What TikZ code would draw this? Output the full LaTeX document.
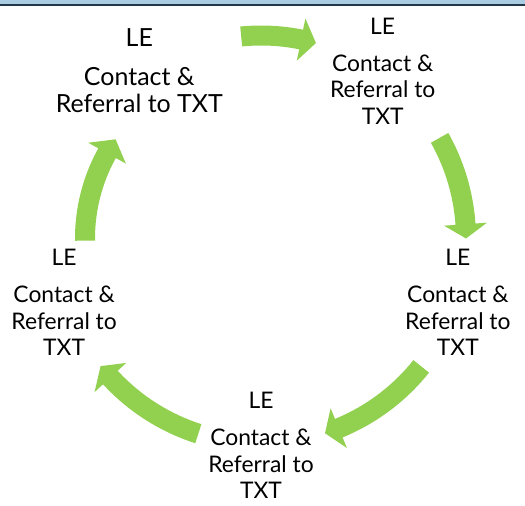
\documentclass[tikz,border=0pt]{standalone}
\usepackage{fontspec}
\setmainfont{Lato}
\usepackage{xcolor}
\usepackage{tikz}
\usetikzlibrary{calc}

\definecolor{arrowgreen}{RGB}{146,208,80}
\definecolor{barblue}{RGB}{170,205,226}
\definecolor{bardark}{RGB}{35,55,75}

% tail angle, head base angle, tip angle, radius
\newcommand{\cyclearrow}[4]{%
  \fill[arrow fill] (#1:{#4+10}) arc[start angle=#1, end angle=#2, radius={#4+10}]
    -- (#2:{#4+21.5}) -- (#3:#4) -- (#2:{#4-21.5}) -- (#2:{#4-10})
    arc[start angle=#2, end angle=#1, radius={#4-10}] -- cycle;}

\begin{document}
\begin{tikzpicture}[scale=0.02,
                    arrow fill/.style={fill=arrowgreen},
                    main node/.style={inner sep=0pt,align=center,font=\fontsize{13}{15.1}\selectfont}]
 \useasboundingbox (-261,-266.5) rectangle (264,238.5);

%Window bar at the top
 \fill[barblue] (-261,238.5) rectangle (264,234.5);
 \fill[bardark] (-261,234.5) rectangle (264,232);

%Text of the cycle
 \node[main node,font=\fontsize{14.2}{15.5}\selectfont] (Contact1) at (126:207) {LE\\[6.5pt]Contact \&\\Referral to TXT};
 \foreach \a/\n in {54/2,342/3,270/4,198/5}
   \node[main node] (Contact\n) at (\a:207) {LE\\[6pt]Contact \&\\Referral to\\TXT};

%Arrows between them
 \cyclearrow{95.6}{78.6}{74.3}{203}
 \cyclearrow{29.4}{4}{0}{205}
 \cyclearrow{-38.6}{-67.7}{-71.8}{205}
 \cyclearrow{252.2}{222.7}{218.5}{205}
 \cyclearrow{180.7}{151}{145.7}{176}

\end{tikzpicture}
\end{document}
